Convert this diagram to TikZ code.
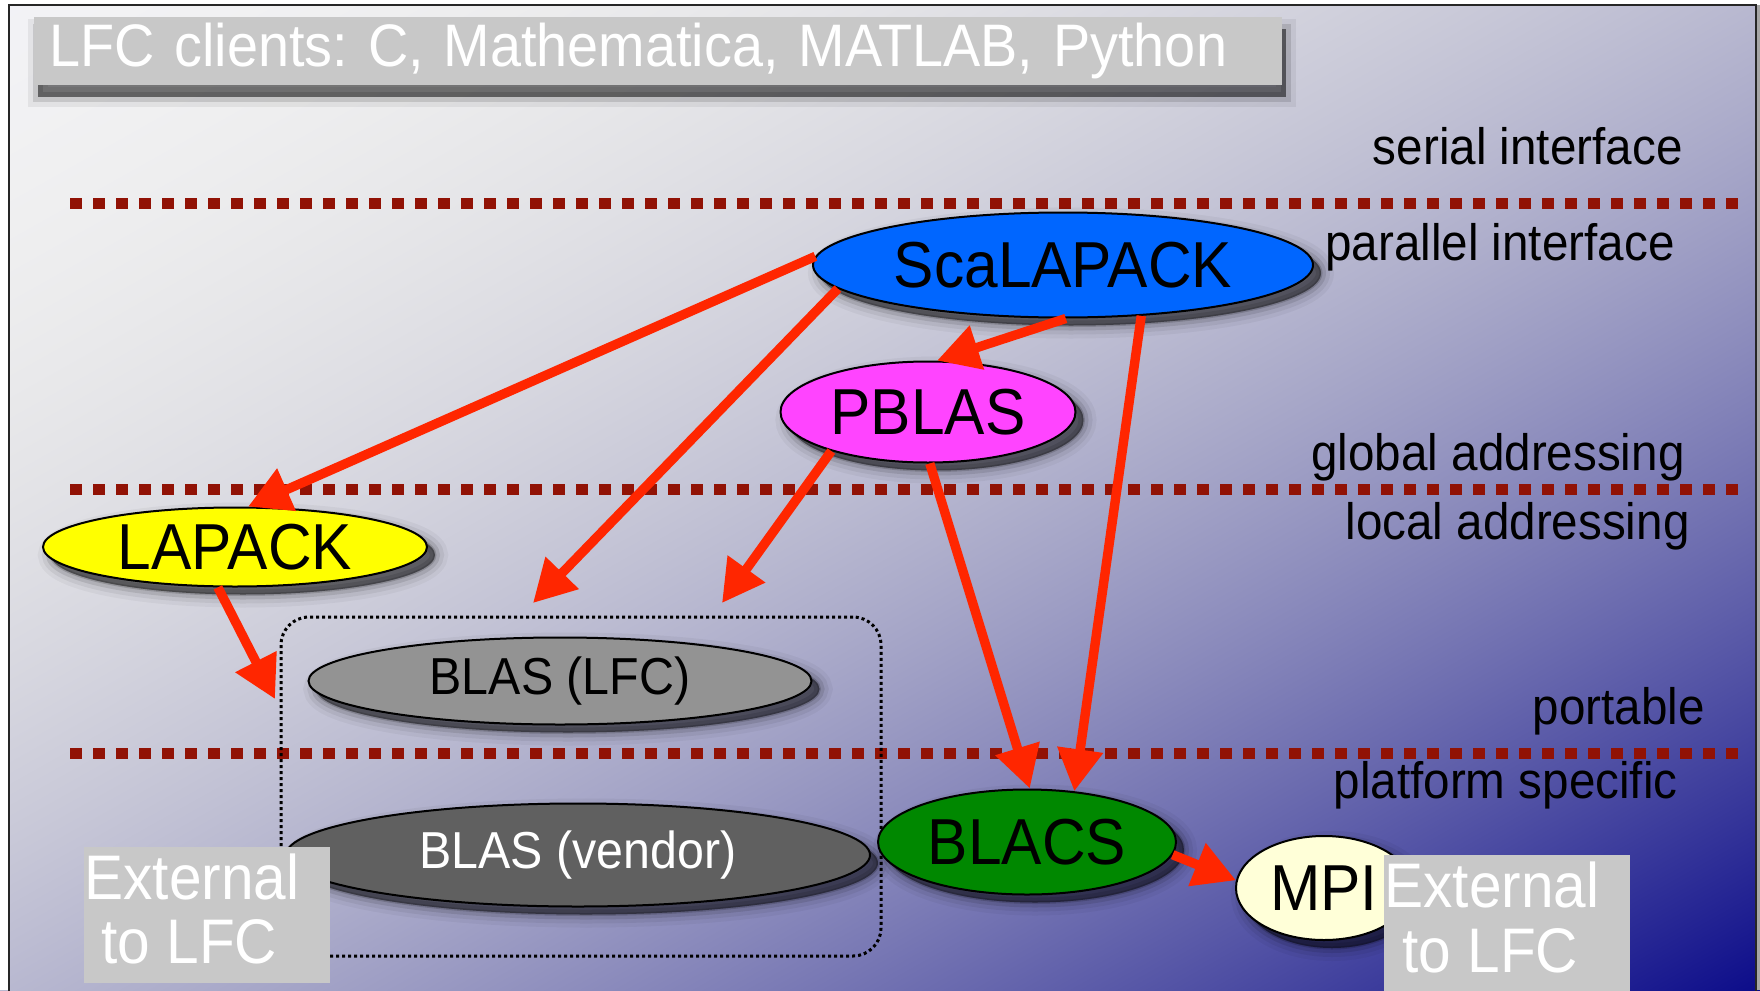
\documentclass[tikz,border=0pt]{standalone}
\usepackage{fontspec}
\setmainfont{Liberation Sans}
\newfontfamily\hv[FakeStretch=0.93]{Liberation Sans}
\usetikzlibrary{shapes.geometric,arrows.meta,shadows}
\frenchspacing
\definecolor{redarrow}{RGB}{255,38,0}
\definecolor{dotred}{RGB}{145,18,5}
\definecolor{scablue}{RGB}{0,102,255}
\definecolor{pmag}{RGB}{255,68,255}
\definecolor{lyellow}{RGB}{255,255,0}
\definecolor{blaslfc}{RGB}{147,147,147}
\definecolor{blasven}{RGB}{96,96,96}
\definecolor{blacsg}{RGB}{0,136,0}
\definecolor{mpiy}{RGB}{255,255,216}
\definecolor{boxgray}{RGB}{200,200,200}
\pgfdeclarefunctionalshading{bgshade}{\pgfpoint{0bp}{0bp}}{\pgfpoint{100bp}{100bp}}{}{
  sub 50 add 100 div
  dup dup mul
  dup 230 mul 242 exch sub 255 div
  dup
  4 -2 roll
  0.6 mul exch 0.4 mul add
  108 mul 246 exch sub 255 div
}
\tikzset{
  blurshadow/.style={
    general shadow={shadow xshift=#1,shadow yshift=-#1,fill=black,draw=black,line width=13pt,opacity=0.04},
    general shadow={shadow xshift=#1,shadow yshift=-#1,fill=black,draw=black,line width=9pt,opacity=0.06},
    general shadow={shadow xshift=#1,shadow yshift=-#1,fill=black,draw=black,line width=5pt,opacity=0.1},
    general shadow={shadow xshift=#1,shadow yshift=-#1,fill=black,draw=black,line width=1.5pt,opacity=0.16},
    general shadow={shadow xshift=#1,shadow yshift=-#1,fill=black,draw=none,opacity=0.25}},
  blurshadow/.default=4pt,
  titleshadow/.style={
    general shadow={shadow xshift=2pt,shadow yshift=-6pt,fill=black,draw=black,line width=10pt,opacity=0.06},
    general shadow={shadow xshift=2pt,shadow yshift=-6pt,fill=black,draw=black,line width=5pt,opacity=0.12},
    general shadow={shadow xshift=2pt,shadow yshift=-6pt,fill=black,draw=none,opacity=0.4}},
  ell/.style={ellipse,draw=black,line width=1pt,inner sep=0pt,blurshadow,font=\hv\fontsize{32.5}{32.5}\selectfont},
  smallell/.style={ell,font=\hv\fontsize{26}{26}\selectfont},
  arr/.style={draw=redarrow,line width=4.7pt,-{Triangle[length=21pt,width=22pt]}},
  reddots/.style={draw=dotred,line width=5.5pt,dash pattern=on 5.75pt off 5.75pt},
  layerlabel/.style={anchor=base east,inner sep=0pt,font=\hv\fontsize{25.6}{25.6}\selectfont},
  extbox/.style={fill=boxgray,anchor=north west,minimum width=123pt,inner sep=0pt},
  exttext/.style={anchor=base west,inner sep=0pt,text=white,font=\hv\fontsize{31.5}{31.5}\selectfont},
  titlebox/.style={fill=boxgray,text=white,minimum width=624pt,minimum height=34pt,text width=609pt,
    inner xsep=7.5pt,inner ysep=0pt,align=left,titleshadow,font=\hv\fontsize{30}{30}\selectfont},
  lfcbox/.style={draw=black,line width=1.5pt,dash pattern=on 1.5pt off 1.5pt,rounded corners=14pt,inner sep=0pt}
}
\begin{document}
\begin{tikzpicture}[x=0.5pt,y=-0.5pt]
\useasboundingbox (0,0) rectangle (1760,990);
% background
\shade[shading=bgshade] (0,0) rectangle (1760,990);
\fill[white] (0,0) rectangle (9,990);
\fill[white] (0,0) rectangle (1760,5);
\fill[black!35] (1757,5) rectangle (1760,990);
\draw[line width=1.2pt,black!85] (9,995) -- (9,5) -- (1756,5) -- (1756,995);
% layer separators
\draw[reddots] (70,203) -- (1745,203);
\draw[reddots] (70,489) -- (1745,489);
\draw[reddots] (70,753) -- (1745,753);
% LFC box
\node[lfcbox,minimum width=300pt,minimum height=169.5pt] (lfc) at (581,786.5) {};
% ellipses
\node[ell,fill=scablue,minimum width=250pt,minimum height=52.5pt] (sca) at (1063,265) {ScaLAPACK};
\node[ell,fill=pmag,minimum width=147.5pt,minimum height=50.5pt] (pblas) at (928,412) {PBLAS};
\node[ell,fill=lyellow,minimum width=192pt,minimum height=39.5pt] (lap) at (235,547) {LAPACK};
\node[smallell,fill=blaslfc,minimum width=251.5pt,minimum height=43.5pt] (blaslfc) at (560,681) {BLAS (LFC)};
\node[smallell,fill=blasven,text=white,minimum width=292pt,minimum height=51.5pt] (blasven) at (578,855) {BLAS (vendor)};
\node[ell,fill=blacsg,minimum width=149pt,minimum height=52.5pt] (blacs) at (1027,842) {BLACS};
\node[ell,fill=mpiy,minimum width=88pt,minimum height=52pt] (mpi) at (1324,888) {MPI};
% free arrow ends
\coordinate (t2) at (533,603);
\coordinate (t5) at (722,603);
\coordinate (t7) at (275,699);
% arrows
\draw[arr] (sca.178) -- (lap.72);
\draw[arr] (sca.186) -- (t2);
\draw[arr] (sca.273) -- (pblas.80);
\draw[arr] (sca.327) -- (blacs.47);
\draw[arr] (pblas.202) -- (t5);
\draw[arr] (pblas.272) -- (blacs.87);
\draw[arr] (lap.247) -- (t7);
\draw[arr] (blacs.355) -- (mpi.175);
% external boxes
\node[extbox,minimum height=68pt] (ext1) at (84,847) {};
\node[exttext] at (84,899) {External};
\node[exttext] at (101,963) {to LFC};
\node[extbox,minimum height=70pt] (ext2) at (1384,855) {};
\node[exttext] at (1384,907) {External};
\node[exttext] at (1402,972) {to LFC};
% layer labels
\node[layerlabel] (l1) at (1683,164) {serial interface};
\node[layerlabel] (l2) at (1675,260) {parallel interface};
\node[layerlabel] (l3) at (1685,470) {global addressing};
\node[layerlabel] (l4) at (1690,539) {local addressing};
\node[layerlabel] (l5) at (1705,724) {portable};
\node[layerlabel] (l6) at (1678,798) {platform specific};
% title
\node[titlebox] (title) at (658,51) {LFC clients: C, Mathematica, MATLAB, Python};
\end{tikzpicture}
\end{document}
